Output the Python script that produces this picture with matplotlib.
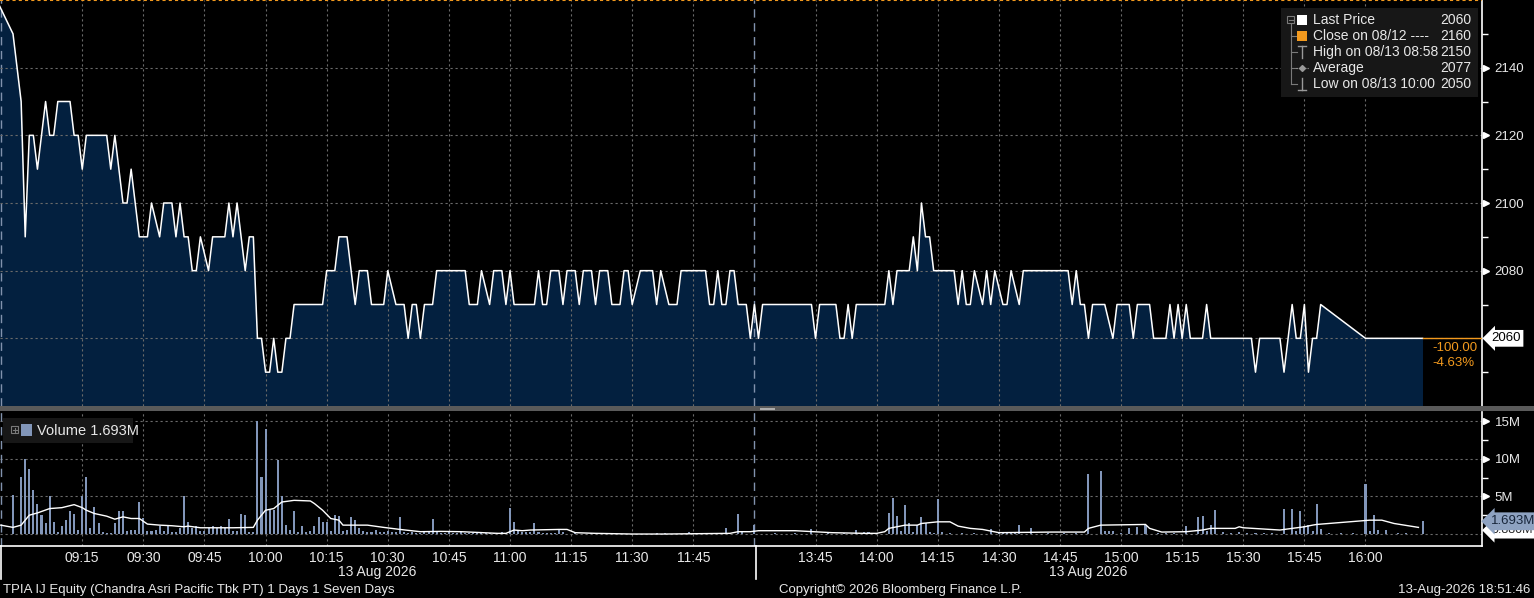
import matplotlib
matplotlib.use('Agg')
import matplotlib.pyplot as plt
import matplotlib.transforms as mtrans
from matplotlib.patches import Rectangle
from matplotlib.lines import Line2D
import numpy as np

plt.rcParams['font.family'] = ['Liberation Sans', 'DejaVu Sans']

# ---------------- data ----------------
price_time = [
    "08:54", "08:58", "09:00", "09:01", "09:02", "09:03", "09:04", "09:06", "09:07", "09:08",
    "09:09", "09:12", "09:13", "09:14", "09:15", "09:16", "09:21", "09:22", "09:23", "09:25",
    "09:26", "09:27", "09:29", "09:31", "09:32", "09:34", "09:35", "09:37", "09:38", "09:39",
    "09:40", "09:41", "09:42", "09:43", "09:44", "09:46", "09:47", "09:50", "09:51", "09:52",
    "09:53", "09:55", "09:56", "09:57", "09:58", "09:59", "10:00", "10:01", "10:02", "10:03",
    "10:04", "10:05", "10:06", "10:07", "10:14", "10:15", "10:17", "10:18", "10:20", "10:22",
    "10:23", "10:25", "10:26", "10:29", "10:30", "10:32", "10:34", "10:35", "10:36", "10:37",
    "10:38", "10:39", "10:41", "10:42", "10:49", "10:50", "10:52", "10:53", "10:55", "10:56",
    "10:58", "10:59", "11:00", "11:01", "11:06", "11:07", "11:08", "11:09", "11:10", "11:12",
    "11:13", "11:14", "11:16", "11:17", "11:18", "11:20", "11:21", "11:22", "11:24", "11:25",
    "11:27", "11:28", "11:29", "11:30", "11:32", "11:35", "11:36", "11:37", "11:39", "11:41",
    "11:42", "11:48", "11:49", "11:50", "11:51", "11:52", "11:53", "11:54", "11:55", "11:56",
    "11:58", "11:59", "13:30", "13:31", "13:32", "13:44", "13:45", "13:46", "13:50", "13:51",
    "13:52", "13:53", "13:54", "13:55", "14:02", "14:03", "14:04", "14:05", "14:08", "14:09",
    "14:10", "14:11", "14:12", "14:13", "14:14", "14:19", "14:20", "14:21", "14:22", "14:23",
    "14:24", "14:26", "14:27", "14:28", "14:29", "14:31", "14:32", "14:33", "14:35", "14:36",
    "14:47", "14:48", "14:49", "14:50", "14:51", "14:52", "14:53", "14:56", "14:58", "14:59",
    "15:02", "15:03", "15:04", "15:07", "15:08", "15:11", "15:12", "15:13", "15:14", "15:15",
    "15:16", "15:17", "15:20", "15:21", "15:22", "15:32", "15:33", "15:34", "15:39", "15:40",
    "15:42", "15:43", "15:44", "15:45", "15:46", "15:47", "15:48", "15:49", "16:00", "16:14",
]
price_value = [
    2160, 2150, 2130, 2090, 2120, 2120, 2110, 2130, 2120, 2120,
    2130, 2130, 2120, 2120, 2110, 2120, 2120, 2110, 2120, 2100,
    2100, 2110, 2090, 2090, 2100, 2090, 2100, 2100, 2090, 2100,
    2090, 2090, 2080, 2080, 2090, 2080, 2090, 2090, 2100, 2090,
    2100, 2080, 2090, 2090, 2060, 2060, 2050, 2050, 2060, 2050,
    2050, 2060, 2060, 2070, 2070, 2080, 2080, 2090, 2090, 2070,
    2080, 2080, 2070, 2070, 2080, 2070, 2070, 2060, 2070, 2070,
    2060, 2070, 2070, 2080, 2080, 2070, 2070, 2080, 2070, 2080,
    2080, 2070, 2080, 2070, 2070, 2080, 2070, 2070, 2080, 2080,
    2070, 2080, 2080, 2070, 2080, 2080, 2070, 2080, 2080, 2070,
    2070, 2080, 2080, 2070, 2080, 2080, 2070, 2080, 2070, 2070,
    2080, 2080, 2070, 2070, 2080, 2070, 2070, 2080, 2080, 2070,
    2070, 2060, 2070, 2060, 2070, 2070, 2060, 2070, 2070, 2060,
    2060, 2070, 2060, 2070, 2070, 2080, 2070, 2080, 2080, 2090,
    2080, 2100, 2090, 2090, 2080, 2080, 2070, 2080, 2070, 2070,
    2080, 2070, 2080, 2070, 2080, 2070, 2070, 2080, 2070, 2080,
    2080, 2070, 2080, 2070, 2070, 2060, 2070, 2070, 2060, 2070,
    2070, 2060, 2070, 2070, 2060, 2060, 2070, 2060, 2070, 2060,
    2070, 2060, 2060, 2070, 2060, 2060, 2050, 2060, 2060, 2050,
    2070, 2060, 2060, 2070, 2050, 2060, 2060, 2070, 2060, 2060,
]

# one-minute volume (millions), morning session from 08:58, afternoon from 13:30
vol_am_start = "08:58"
vol_am = [
    5.2, 0, 7.6, 10.0, 8.6, 5.9, 4.0, 2.5, 1.4, 5.0,
    1.6, 0.3, 1.0, 1.8, 3.1, 2.7, 0.5, 5.1, 7.6, 0.8,
    3.6, 1.4, 0.3, 0.2, 0.2, 1.5, 3.0, 3.1, 0.4, 0.5,
    0.5, 4.2, 2.1, 0.4, 0.4, 0.5, 1.0, 0.4, 1.2, 0.3,
    0.3, 0.8, 5.0, 1.6, 0.8, 1.0, 0.4, 0.4, 0.8, 1.0,
    0.8, 1.0, 0.8, 2.0, 0.4, 0.4, 2.7, 2.5, 0.3, 0.3,
    15.0, 7.6, 13.9, 3.2, 3.2, 9.8, 5.0, 1.2, 0.6, 3.1,
    0.3, 1.0, 0.3, 0.4, 1.0, 2.3, 1.6, 1.6, 0.4, 2.5,
    2.4, 0.4, 0.5, 2.2, 1.9, 0.8, 0.4, 0.3, 0.3, 0.5,
    0.3, 0.3, 0.4, 0.3, 0.3, 2.2, 0.3, 0.2, 0.3, 0.2,
    0.2, 0.3, 0.4, 2.0, 0.3, 0.2, 0.2, 0.3, 0.2, 0.2,
    0.3, 0.2, 0.2, 0.2, 0.3, 0.2, 0.2, 0.2, 0.2, 0.2,
    0.3, 0.2, 3.5, 1.6, 0.5, 0.3, 0.3, 0.3, 1.4, 0.3,
    0.2, 0.2, 0.2, 0.2, 0.5, 0.3, 0, 0, 0.1, 0,
    0, 0, 0.1, 0, 0, 0, 0, 0, 0, 0,
    0, 0, 0, 0, 0, 0, 0, 0, 0.2, 0,
    0.1, 0, 0, 0, 0, 0, 0.3, 0, 0, 0.2,
    0, 0, 0.1, 0, 0, 0.8, 0, 0, 2.7, 0.3,
    0, 0,
]
vol_pm_start = "13:30"
vol_pm = [
    1.2, 0, 0, 0, 0, 0.2, 0, 0, 0, 0,
    0.2, 0, 0, 0, 0.7, 0, 0, 0, 0.2, 0,
    0, 0, 0.2, 0, 0, 0.5, 0, 0.3, 0.3, 0,
    0.2, 0, 0, 2.8, 4.8, 2.4, 0.4, 3.9, 1.4, 0.3,
    1.2, 2.2, 1.4, 0.3, 0.2, 4.6, 0.3, 0, 0.2, 0,
    0, 0.2, 0, 0, 0.2, 0, 0, 0, 0.7, 0,
    0.2, 0.2, 0.2, 0.2, 0.2, 1.2, 0, 0, 0.8, 0,
    0, 0, 0.2, 0, 0, 0, 0.2, 0, 0, 0.2,
    0, 0, 8.0, 0, 0, 8.4, 0.4, 0.4, 0.4, 0,
    0.2, 0, 0.8, 0, 0.9, 0, 1.2, 0, 0, 0.2,
    0, 0.2, 0, 0.2, 0, 0, 1.1, 0, 0, 2.2,
    2.4, 0.4, 1.2, 3.2, 0, 0.3, 0, 0.2, 0, 0.3,
    0, 0.2, 0, 0.2, 0, 0.2, 0, 0.2, 0, 0,
    3.3, 0, 3.3, 0.4, 3.0, 1.0, 1.2, 0.4, 4.0, 0.7,
    0, 0.2, 0, 0, 0.2, 0, 0, 0.2, 0, 0,
    6.7, 0.4, 2.5, 0.5, 0, 0.5, 0, 0, 0.2, 0,
    0.2, 0, 0, 0, 1.693,
]

vavg_time = [
    "08:55", "08:58", "09:00", "09:02", "09:04", "09:07", "09:10", "09:13", "09:15", "09:16",
    "09:18", "09:21", "09:23", "09:25", "09:27", "09:29", "09:31", "09:34", "09:37", "09:40",
    "09:41", "09:44", "09:52", "09:57", "09:58", "10:00", "10:02", "10:04", "10:07", "10:11",
    "10:12", "10:14", "10:16", "10:18", "10:19", "10:25", "10:29", "10:33", "10:38", "10:43",
    "10:48", "10:57", "10:59", "11:01", "11:03", "11:05", "11:12", "11:14", "11:16", "11:21",
    "11:30", "11:38", "11:54", "11:56", "11:59", "13:31", "13:40", "13:49", "13:57", "14:00",
    "14:02", "14:03", "14:07", "14:10", "14:11", "14:15", "14:18", "14:20", "14:23", "14:26",
    "14:30", "14:43", "14:51", "14:52", "14:55", "15:06", "15:07", "15:10", "15:16", "15:20",
    "15:22", "15:28", "15:29", "15:30", "15:39", "15:42", "15:45", "15:47", "15:48", "15:59",
    "16:01", "16:04", "16:07", "16:13",
]
vavg_value = [
    1.18, 0.88, 1.18, 2.5, 2.8, 3.38, 3.5, 3.9, 3.5, 3.16,
    2.72, 2.37, 1.97, 2.28, 2.06, 2.06, 1.32, 1.18, 1.1, 0.96,
    1.05, 0.83, 0.83, 0.88, 1.84, 3.16, 3.38, 4.25, 4.47, 4.39,
    4.04, 3.16, 2.06, 1.84, 1.18, 1.18, 0.88, 0.61, 0.31, 0.35,
    0.31, 0.09, 0.09, 0.53, 0.44, 0.53, 0.61, 0.61, 0.18, 0.09,
    0.0, 0.0, 0.09, 0.31, 0.31, 0.44, 0.44, 0.18, 0.09, 0.09,
    0.31, 0.75, 1.18, 1.18, 1.4, 1.62, 1.62, 1.05, 0.75, 0.61,
    0.18, 0.26, 0.26, 0.75, 1.18, 1.27, 0.75, 0.26, 0.31, 0.53,
    0.75, 0.75, 0.96, 0.83, 0.53, 0.75, 0.96, 1.18, 1.27, 1.75,
    1.84, 1.84, 1.4, 0.88,
]

x_tick_labels = ["09:15", "09:30", "09:45", "10:00", "10:15", "10:30", "10:45", "11:00",
                 "11:15", "11:30", "11:45", "13:45", "14:00", "14:15", "14:30", "14:45",
                 "15:00", "15:15", "15:30", "15:45", "16:00"]
price_ticks = [2060, 2080, 2100, 2120, 2140]
vol_ticks = [5, 10, 15]
vol_tick_labels = ["5M", "10M", "15M"]

legend_rows = [("Last Price", "2060"), ("Close on 08/12 ----", "2160"),
               ("High on 08/13 08:58", "2150"), ("Average", "2077"),
               ("Low on 08/13 10:00", "2050")]
last_price = 2060
prev_close = 2160
change_abs = "-100.00"
change_pct = "-4.63%"
last_volume_label = "1.693M"
avg_volume_label = "0.880M"
date_label = "13 Aug 2026"
footer_left = "TPIA IJ Equity (Chandra Asri Pacific Tbk PT) 1 Days 1 Seven Days"
footer_mid = "Copyright\u00a9 2026 Bloomberg Finance L.P."
footer_right = "13-Aug-2026 18:51:46"


# ---------------- helpers ----------------
def to_pos(t):
    h, m = map(int, t.split(':'))
    mins = h * 60 + m
    if mins < 12 * 60:
        return mins - 9 * 60
    return 180 + mins - (13 * 60 + 30)


W, H = 1534, 598
def P(x, y):
    return (x / W, 1 - y / H)

BG = 'black'
FILL = '#03203f'
GRID = '#6a6a6a'
ORANGE = '#f39a1e'
BAR = '#8296b9'
BREAK = '#8192ad'
TXT = '#e8e8e8'

XMIN, XMAX = -5.19, 358.6

fig = plt.figure(figsize=(W / 100, H / 100), dpi=100, facecolor=BG)
ax_p = fig.add_axes([0, 1 - 406 / H, 1482 / W, 406 / H])
ax_v = fig.add_axes([0, 1 - 545.7 / H, 1482 / W, (545.7 - 412) / H])

p_pos = np.array([to_pos(t) for t in price_time])
p_val = np.array(price_value)
am_pos = to_pos(vol_am_start) + np.arange(len(vol_am))
pm_pos = to_pos(vol_pm_start) + np.arange(len(vol_pm))
v_pos = np.concatenate([am_pos, pm_pos])
v_val = np.array(vol_am + vol_pm)
a_pos = np.array([to_pos(t) for t in vavg_time])
a_val = np.array(vavg_value)
xt_pos = [to_pos(t) for t in x_tick_labels]
break_pos = to_pos("13:30")
first_pos = XMIN + 0.2

for ax in (ax_p, ax_v):
    ax.set_facecolor(BG)
    ax.set_xlim(XMIN, XMAX)
    for s in ('top', 'left', 'bottom'):
        ax.spines[s].set_visible(False)
    ax.spines['right'].set_color('white')
    ax.spines['right'].set_linewidth(1.2)
    for xp in xt_pos:
        ax.axvline(xp, color=GRID, ls=(0, (2, 2.5)), lw=0.8, zorder=2)
    ax.axvline(break_pos, color=BREAK, ls=(0, (6, 4)), lw=1.0, zorder=2)
    ax.axvline(first_pos, color=BREAK, ls=(0, (6, 4)), lw=1.0, zorder=2)

# ---- price panel ----
ax_p.set_ylim(2040, 2160)
ax_p.fill_between(p_pos, p_val, 2040, color=FILL, lw=0, zorder=1)
for yv in price_ticks:
    ax_p.axhline(yv, color=GRID, ls=(0, (2, 2.5)), lw=0.8, zorder=2)
ax_p.plot(p_pos, p_val, color='white', lw=1.1, zorder=3)
ax_p.axhline(prev_close, color=ORANGE, ls=(0, (1.5, 1.5)), lw=1.5, zorder=4, clip_on=False)
ax_p.plot([p_pos[-1], XMAX], [last_price, last_price], color=ORANGE, lw=1.0, zorder=4)

ax_p.set_xticks([])
ax_p.yaxis.tick_right()
ax_p.set_yticks(price_ticks)
ax_p.set_yticklabels([str(v) for v in price_ticks])
ax_p.set_yticks([2050, 2070, 2090, 2110, 2130, 2150], minor=True)
ax_p.tick_params(axis='y', which='major', length=0, pad=9, labelsize=9.5, labelcolor=TXT)
ax_p.tick_params(axis='y', which='minor', length=4, width=1, color='white', direction='out')
for lab in ax_p.get_yticklabels():
    if lab.get_text() == str(last_price):
        lab.set_visible(False)

arrow_off = mtrans.ScaledTranslation(3.5 / 100, 0, fig.dpi_scale_trans)
ax_p.plot([1.0] * (len(price_ticks) - 1), [v for v in price_ticks if v != last_price],
          ls='none', marker='>', ms=4.5, color='white',
          transform=ax_p.get_yaxis_transform() + arrow_off, clip_on=False)

ax_p.text(1.0, last_price, str(last_price), transform=ax_p.get_yaxis_transform() +
          mtrans.ScaledTranslation(9.5 / 100, 0, fig.dpi_scale_trans),
          ha='left', va='center', fontsize=9.5, color='black', clip_on=False, zorder=10,
          bbox=dict(boxstyle='larrow,pad=0.18', fc='white', ec='none'))
ax_p.text(1432 / 1482, 2060 - (348 - 338.5) / 3.39, change_abs, transform=ax_p.get_yaxis_transform(),
          ha='left', va='center', fontsize=9.5, color=ORANGE, zorder=10)
ax_p.text(1432 / 1482, 2060 - (363 - 338.5) / 3.39, change_pct, transform=ax_p.get_yaxis_transform(),
          ha='left', va='center', fontsize=9.5, color=ORANGE, zorder=10)

# ---- volume panel ----
ax_v.set_ylim(-1.55, 16.2)
for yv in [0] + vol_ticks:
    ax_v.axhline(yv, color=GRID, ls=(0, (2, 2.5)), lw=0.8, zorder=1)
ax_v.bar(v_pos, v_val, width=0.5, color=BAR, lw=0, zorder=3)
ax_v.plot(a_pos, a_val, color='white', lw=1.0, zorder=4)
ax_v.spines['bottom'].set_visible(True)
ax_v.spines['bottom'].set_color('white')
ax_v.spines['bottom'].set_linewidth(1.2)
ax_v.set_xticks(xt_pos)
ax_v.set_xticklabels(x_tick_labels)
ax_v.tick_params(axis='x', length=0, pad=4, labelsize=10, labelcolor=TXT)
ax_v.yaxis.tick_right()
ax_v.set_yticks(vol_ticks)
ax_v.set_yticklabels(vol_tick_labels)
ax_v.set_yticks([2.5, 7.5, 12.5], minor=True)
ax_v.tick_params(axis='y', which='major', length=0, pad=9, labelsize=9.5, labelcolor=TXT)
ax_v.tick_params(axis='y', which='minor', length=4, width=1, color='white', direction='out')
ax_v.plot([1.0] * len(vol_ticks), vol_ticks, ls='none', marker='>', ms=4.5, color='white',
          transform=ax_v.get_yaxis_transform() + arrow_off, clip_on=False)

ax_v.text(1.0, 0.5, avg_volume_label, transform=ax_v.get_yaxis_transform() +
          mtrans.ScaledTranslation(9 / 100, 0, fig.dpi_scale_trans),
          ha='left', va='center', fontsize=9, color='#222222', clip_on=False, zorder=9,
          bbox=dict(boxstyle='larrow,pad=0.18', fc='white', ec='none'))
ax_v.text(1.0, 1.693, last_volume_label, transform=ax_v.get_yaxis_transform() +
          mtrans.ScaledTranslation(9 / 100, 0, fig.dpi_scale_trans),
          ha='left', va='center', fontsize=9.5, color='#17253a', clip_on=False, zorder=10,
          bbox=dict(boxstyle='larrow,pad=0.22', fc='#8ea2c1', ec='none'))

# date labels centred on each session
xt = ax_v.get_xaxis_transform()
ax_v.text((XMIN + break_pos) / 2, -(572 - 545.7) / 133.7, date_label, transform=xt,
          ha='center', va='center', fontsize=10, color=TXT)
ax_v.text((break_pos + p_pos[-1]) / 2, -(572 - 545.7) / 133.7, date_label, transform=xt,
          ha='center', va='center', fontsize=10, color=TXT)

# session separators on the time axis
for xpix in (1.0, 755.5):
    fig.add_artist(Line2D([xpix / W, xpix / W], [P(0, 545.7)[1], P(0, 579)[1]],
                          color='white', lw=1.2, transform=fig.transFigure))

# panel separator bar
fig.add_artist(Rectangle(P(0, 411), 1, 5 / H, transform=fig.transFigure,
                         color='#5a5a5a', lw=0, zorder=20))
for yy in (407.6, 409.4):
    fig.add_artist(Line2D([P(760, 0)[0], P(774, 0)[0]], [P(0, yy)[1]] * 2,
                          color='#b0b0b0', lw=0.7, transform=fig.transFigure, zorder=21))

# ---- price legend ----
fig.add_artist(Rectangle(P(1281, 97), 197 / W, 89 / H, transform=fig.transFigure,
                         color='#171717', lw=0, zorder=20))
rows_y = [20, 36, 52, 68, 84]
tree_c = '#7a7a7a'
fig.add_artist(Rectangle(P(1287, 23), 7 / W, 7 / H, transform=fig.transFigure,
                         fill=False, ec=tree_c, lw=0.8, zorder=21))
fig.add_artist(Line2D([P(1288.5, 0)[0], P(1292.5, 0)[0]], [P(0, 19.5)[1]] * 2,
                      color=tree_c, lw=0.8, transform=fig.transFigure, zorder=21))
fig.add_artist(Line2D([P(1290.5, 0)[0]] * 2, [P(0, 24)[1], P(0, 84)[1]],
                      color=tree_c, lw=0.8, transform=fig.transFigure, zorder=21))
for yy in rows_y[1:]:
    fig.add_artist(Line2D([P(1290.5, 0)[0], P(1297, 0)[0]], [P(0, yy)[1]] * 2,
                          color=tree_c, lw=0.8, transform=fig.transFigure, zorder=21))
fig.add_artist(Rectangle(P(1297, 25), 10 / W, 10 / H, transform=fig.transFigure,
                         color='white', lw=0, zorder=22))
fig.add_artist(Rectangle(P(1297, 41), 10 / W, 10 / H, transform=fig.transFigure,
                         color=ORANGE, lw=0, zorder=22))
mk_c = '#9a9a9a'
fig.add_artist(Line2D([P(1302, 0)[0]] * 2, [P(0, 46)[1], P(0, 58)[1]], color=mk_c, lw=1,
                      transform=fig.transFigure, zorder=22))
fig.add_artist(Line2D([P(1298, 0)[0], P(1306, 0)[0]], [P(0, 46)[1]] * 2, color=mk_c, lw=1,
                      transform=fig.transFigure, zorder=22))
fig.add_artist(Line2D([P(1296, 0)[0], P(1309, 0)[0]], [P(0, 68)[1]] * 2, color=mk_c, lw=0.8,
                      ls=(0, (1, 1)), transform=fig.transFigure, zorder=22))
fig.add_artist(Line2D([P(1302, 0)[0]], [P(0, 68)[1]], color=mk_c, marker='D', ms=3,
                      transform=fig.transFigure, zorder=22))
fig.add_artist(Line2D([P(1302, 0)[0]] * 2, [P(0, 78)[1], P(0, 90)[1]], color=mk_c, lw=1,
                      transform=fig.transFigure, zorder=22))
fig.add_artist(Line2D([P(1298, 0)[0], P(1306, 0)[0]], [P(0, 90)[1]] * 2, color=mk_c, lw=1,
                      transform=fig.transFigure, zorder=22))
for (lab, val), yy in zip(legend_rows, rows_y):
    fig.text(*P(1313, yy), lab, ha='left', va='center', fontsize=10, color=TXT, zorder=23)
    fig.text(*P(1471, yy), val, ha='right', va='center', fontsize=10, color=TXT, zorder=23)

# ---- volume legend ----
fig.add_artist(Rectangle(P(3, 443), 130 / W, 25 / H, transform=fig.transFigure,
                         color='#171717', lw=0, zorder=20))
fig.add_artist(Rectangle(P(11, 433), 7 / W, 7 / H, transform=fig.transFigure,
                         fill=False, ec=tree_c, lw=0.8, zorder=21))
fig.add_artist(Line2D([P(12.5, 0)[0], P(16.5, 0)[0]], [P(0, 429.5)[1]] * 2,
                      color=tree_c, lw=0.8, transform=fig.transFigure, zorder=21))
fig.add_artist(Line2D([P(14.5, 0)[0]] * 2, [P(0, 427.5)[1], P(0, 431.5)[1]],
                      color=tree_c, lw=0.8, transform=fig.transFigure, zorder=21))
fig.add_artist(Rectangle(P(21, 436), 11 / W, 12 / H, transform=fig.transFigure,
                         color=BAR, lw=0, zorder=22))
fig.text(*P(37, 431), "Volume " + last_volume_label, ha='left', va='center', fontsize=10.5,
         color=TXT, zorder=23)

# ---- footer ----
fig.text(*P(3, 590), footer_left, ha='left', va='center', fontsize=9.5, color=TXT)
fig.text(*P(779, 590), footer_mid, ha='left', va='center', fontsize=9.5, color=TXT)
fig.text(*P(1530, 590), footer_right, ha='right', va='center', fontsize=9.5, color=TXT)

fig.savefig('out.png', dpi=100, facecolor=BG)
